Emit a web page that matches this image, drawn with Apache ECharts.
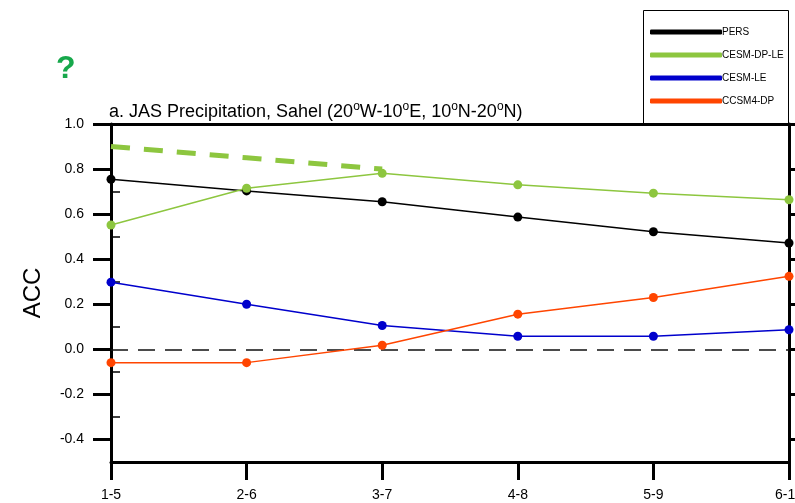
<!DOCTYPE html>
<html>
<head>
<meta charset="utf-8">
<script src="https://cdn.jsdelivr.net/npm/echarts@6/dist/echarts.min.js"></script>
<style>
  html, body { margin: 0; padding: 0; background: #fff; }
  #chart { width: 795px; height: 503px; }
</style>
</head>
<body>
<div id="chart"></div>
<script>
var leads = ['1-5', '2-6', '3-7', '4-8', '5-9', '6-10'];
var pers = [0.755, 0.703, 0.655, 0.587, 0.522, 0.472];
var cesmDpLe = [0.552, 0.715, 0.781, 0.730, 0.693, 0.664];
var cesmLe = [0.298, 0.200, 0.106, 0.058, 0.058, 0.087];
var ccsm4Dp = [-0.059, -0.059, 0.018, 0.156, 0.230, 0.324];
var dpLeRef = [0.90, 0.85, 0.80, null, null, null];
// y axis: full range -0.5..1.0, labelled ticks every 0.2 from -0.4, minor ticks between
var yMin = -0.5, yMax = 1.0;
var yMajorMin = -0.4, yMajorStep = 0.2;
var yTicks = ['-0.5', '-0.4', '-0.3', '-0.2', '-0.1', '0.0', '0.1', '0.2',
              '0.3', '0.4', '0.5', '0.6', '0.7', '0.8', '0.9', '1.0'];
var yMajor = ['-0.4', '-0.2', '0.0', '0.2', '0.4', '0.6', '0.8', '1.0'];

function isMinor(i) { return yMajor.indexOf(yTicks[i]) < 0; }

var font = 'Liberation Sans, Arial, Helvetica, sans-serif';
var myChart = echarts.init(document.getElementById('chart'));

// grid 0 is the full plot; grid 1 spans -0.4..1.0 only, so its ticks start on a multiple of 0.2
var plotTop = 124, plotBottom = 41, plotH = 503 - plotTop - plotBottom;
var majorBottom = plotBottom + plotH * (yMajorMin - yMin) / (yMax - yMin);

function lineSeries(name, data, color) {
    return {
        name: name,
        type: 'line',
        data: data,
        xAxisIndex: 0,
        yAxisIndex: 0,
        symbol: 'circle',
        symbolSize: 9,
        itemStyle: { color: color },
        lineStyle: { color: color, width: 1.5 },
        emphasis: { disabled: true },
        z: 5
    };
}

var blackLine = { lineStyle: { color: '#000', width: 3 }, onZero: false };

var option = {
    animation: false,
    textStyle: { fontFamily: font },
    grid: [
        { left: 111, right: 6, top: plotTop, bottom: plotBottom, outerBoundsMode: 'none', containLabel: false },
        { left: 111, right: 6, top: plotTop, bottom: majorBottom, outerBoundsMode: 'none', containLabel: false }
    ],
    title: {
        left: 104,
        top: 96,
        text: '{a|a. JAS Precipitation, Sahel (20}{s|o}{a|W-10}{s|o}{a|E, 10}{s|o}{a|N-20}{s|o}{a|N)}',
        textStyle: {
            fontWeight: 'normal',
            rich: {
                a: { fontSize: 18, color: '#000', fontFamily: font, fontWeight: 'normal' },
                s: { fontSize: 12, color: '#000', fontFamily: font, fontWeight: 'normal', padding: [0, 0, 10, 0] }
            }
        }
    },
    graphic: [
        {
            type: 'text', left: 56, top: 53, z: 10,
            style: { text: '?', fontSize: 32, fontWeight: 'bold', fill: '#17a84b', fontFamily: font }
        },
        {
            type: 'rect', z: 0,
            shape: { x: 643.5, y: 10.5, width: 145, height: 114 },
            style: { fill: '#fff', stroke: '#000', lineWidth: 1 }
        }
    ],
    legend: {
        orient: 'vertical',
        left: 645,
        top: 22,
        data: ['PERS', 'CESM-DP-LE', 'CESM-LE', 'CCSM4-DP'],
        icon: 'roundRect',
        itemWidth: 72,
        itemHeight: 5,
        itemGap: 13,
        selectedMode: false,
        textStyle: { fontSize: 10, color: '#000', fontFamily: font, padding: [0, 0, 0, -5] },
        z: 10
    },
    xAxis: [
        {
            type: 'category',
            gridIndex: 0,
            data: leads,
            boundaryGap: false,
            position: 'bottom',
            axisLine: blackLine,
            axisTick: { length: 18, lineStyle: { color: '#000', width: 3 } },
            axisLabel: { fontSize: 14, color: '#000', margin: 26, fontFamily: font, interval: 0, hideOverlap: false },
            splitLine: { show: false }
        },
        {
            type: 'category',
            gridIndex: 0,
            data: leads,
            boundaryGap: false,
            position: 'top',
            axisLine: blackLine,
            axisTick: { show: false },
            axisLabel: { show: false },
            splitLine: { show: false }
        },
        {
            type: 'category',
            gridIndex: 1,
            data: leads,
            boundaryGap: false,
            show: false
        }
    ],
    yAxis: [
        {
            type: 'value',
            gridIndex: 0,
            min: yMin,
            max: yMax,
            show: false
        },
        {
            // minor ticks, drawn inward, plus the full-height left axis line
            type: 'category',
            gridIndex: 0,
            data: yTicks,
            boundaryGap: false,
            position: 'left',
            name: 'ACC',
            nameLocation: 'middle',
            nameGap: 66,
            nameRotate: 90,
            nameTextStyle: { fontSize: 24, color: '#000', fontFamily: font },
            axisLine: blackLine,
            axisTick: { show: true, inside: true, length: 9, interval: isMinor, lineStyle: { color: '#000', width: 1.5 } },
            axisLabel: { show: false },
            splitLine: { show: false }
        },
        {
            type: 'category',
            gridIndex: 0,
            data: yTicks,
            boundaryGap: false,
            position: 'right',
            axisLine: blackLine,
            axisTick: { show: false },
            axisLabel: { show: false },
            splitLine: { show: false }
        },
        {
            // major ticks and labels
            type: 'value',
            gridIndex: 1,
            min: yMajorMin,
            max: yMax,
            interval: yMajorStep,
            position: 'left',
            axisLine: blackLine,
            axisTick: { show: true, length: 18, lineStyle: { color: '#000', width: 3 } },
            axisLabel: {
                fontSize: 14, color: '#000', margin: 27, fontFamily: font,
                formatter: function (v) { return v.toFixed(1); }
            },
            splitLine: { show: false }
        },
        {
            type: 'value',
            gridIndex: 1,
            min: yMajorMin,
            max: yMax,
            interval: yMajorStep,
            position: 'right',
            axisLine: blackLine,
            axisTick: { show: true, length: 7, lineStyle: { color: '#000', width: 3 } },
            axisLabel: { show: false },
            splitLine: { show: false }
        }
    ],
    series: [
        {
            name: 'DP-LE ref',
            type: 'line',
            data: dpLeRef,
            symbol: 'none',
            lineStyle: { color: '#8dc63f', width: 5, type: [19, 14] },
            emphasis: { disabled: true },
            z: 4,
            markLine: {
                silent: true,
                symbol: 'none',
                label: { show: false },
                lineStyle: { color: '#111', width: 1.5, type: [17, 10] },
                data: [{ yAxis: 0 }]
            }
        },
        lineSeries('PERS', pers, '#000000'),
        lineSeries('CESM-DP-LE', cesmDpLe, '#8dc63f'),
        lineSeries('CESM-LE', cesmLe, '#0000cc'),
        lineSeries('CCSM4-DP', ccsm4Dp, '#ff4500')
    ]
};

myChart.setOption(option);
</script>
</body>
</html>
